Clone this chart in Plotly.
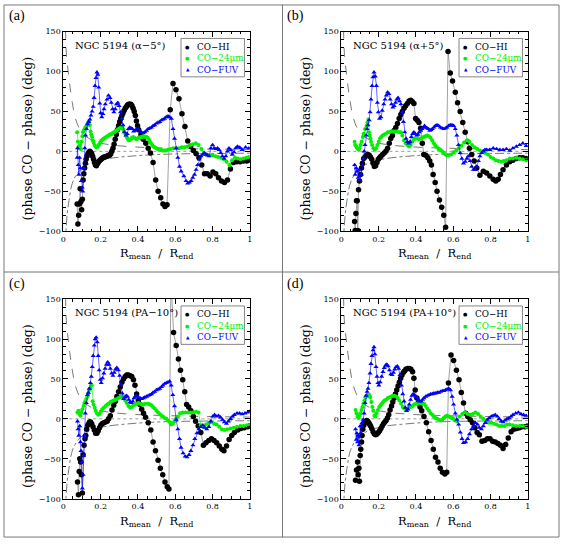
import plotly.graph_objects as go

# values: (R_mean / R_end, phase difference in deg)
A_HI = [(0.074, -66), (0.078, -91), (0.082, -80), (0.086, -66), (0.090, -47), (0.094, -63), (0.098, -73),
        (0.102, -60), (0.106, -36), (0.110, -28), (0.114, -21), (0.118, -15), (0.122, -10), (0.127, -6),
        (0.132, -3), (0.137, -1), (0.142, 0), (0.147, -1), (0.152, -3), (0.157, -6), (0.162, -10),
        (0.167, -14), (0.172, -17), (0.177, -18), (0.182, -16), (0.187, -14), (0.192, -12), (0.197, -11),
        (0.202, -10), (0.207, -9), (0.212, -8), (0.218, -7), (0.224, -7), (0.230, -6), (0.236, -6),
        (0.242, -5), (0.248, -5), (0.254, -3), (0.260, 0), (0.266, 4), (0.272, 9), (0.278, 15), (0.284, 21),
        (0.290, 27), (0.296, 32), (0.302, 37), (0.308, 41), (0.314, 45), (0.320, 48), (0.326, 51),
        (0.332, 54), (0.338, 56), (0.344, 58), (0.350, 59), (0.356, 59), (0.362, 59), (0.368, 57),
        (0.374, 54), (0.380, 50), (0.386, 45), (0.392, 38), (0.398, 32), (0.404, 27), (0.416, 21),
        (0.428, 15), (0.442, 10), (0.455, 4), (0.467, -2), (0.481, -14), (0.495, -36), (0.508, -50),
        (0.522, -58), (0.534, -66), (0.545, -69), (0.556, -67), (0.573, 52), (0.588, 85), (0.604, 77),
        (0.620, 66), (0.636, 47), (0.652, 31), (0.667, 13), (0.682, 6), (0.697, 1), (0.712, -3),
        (0.727, -8), (0.742, -17), (0.757, -28), (0.772, -28), (0.787, -31), (0.802, -26), (0.817, -28),
        (0.832, -33), (0.848, -37), (0.864, -39), (0.880, -36), (0.896, -22), (0.912, -14), (0.930, -13),
        (0.948, -13), (0.966, -12), (0.984, -12), (0.998, -11)]

A_24 = [(0.074, 24), (0.078, 12), (0.082, 6), (0.086, 4), (0.090, 8), (0.094, 3), (0.098, 12), (0.102, 19),
        (0.106, 24), (0.110, 26), (0.114, 28), (0.118, 30), (0.122, 31), (0.126, 33), (0.130, 35),
        (0.134, 36), (0.138, 38), (0.142, 33), (0.146, 25), (0.150, 21), (0.154, 18), (0.158, 14),
        (0.162, 11), (0.167, 8), (0.172, 6), (0.177, 5), (0.182, 5), (0.187, 7), (0.192, 9), (0.197, 11),
        (0.202, 13), (0.207, 14), (0.212, 15), (0.218, 16), (0.224, 17), (0.230, 18), (0.236, 19),
        (0.242, 20), (0.248, 21), (0.254, 21), (0.260, 22), (0.266, 23), (0.272, 24), (0.278, 25),
        (0.284, 26), (0.290, 27), (0.296, 28), (0.302, 29), (0.308, 30), (0.314, 30), (0.320, 28),
        (0.326, 25), (0.332, 22), (0.338, 19), (0.344, 16), (0.350, 14), (0.356, 14), (0.362, 15),
        (0.368, 17), (0.374, 18), (0.380, 17), (0.386, 16), (0.392, 15), (0.398, 16), (0.404, 17),
        (0.410, 17), (0.416, 18), (0.422, 18), (0.428, 19), (0.434, 19), (0.440, 18), (0.446, 18),
        (0.452, 17), (0.458, 15), (0.464, 12), (0.470, 10), (0.476, 8), (0.482, 6), (0.490, 5), (0.498, 4),
        (0.506, 3), (0.514, 2), (0.522, 2), (0.530, 1), (0.538, 1), (0.546, 1), (0.560, 2), (0.575, 3),
        (0.590, 4), (0.605, 4), (0.620, 4), (0.635, 5), (0.650, 5), (0.665, 6), (0.680, 8), (0.695, 9),
        (0.710, 10), (0.725, 8), (0.740, 3), (0.755, -2), (0.770, -4), (0.785, -5), (0.800, -5),
        (0.815, -6), (0.830, -7), (0.845, -8), (0.860, -10), (0.875, -13), (0.890, -17), (0.905, -11),
        (0.920, -8), (0.935, -9), (0.950, -10), (0.965, -9), (0.980, -8), (0.995, -7)]

A_FUV = [(0.074, -8), (0.076, 4), (0.080, -17), (0.083, -29), (0.087, -8), (0.092, -21), (0.096, -37),
         (0.101, -45), (0.104, -50), (0.110, -21), (0.115, 4), (0.119, 20), (0.124, 28), (0.130, 34),
         (0.136, 37), (0.142, 40), (0.148, 45), (0.154, 50), (0.160, 56), (0.165, 67), (0.170, 82),
         (0.175, 92), (0.180, 99), (0.185, 96), (0.190, 80), (0.195, 60), (0.200, 48), (0.206, 43),
         (0.212, 47), (0.218, 53), (0.225, 59), (0.234, 65), (0.242, 70), (0.250, 67), (0.257, 61),
         (0.264, 53), (0.271, 49), (0.278, 53), (0.285, 59), (0.292, 61), (0.299, 57), (0.306, 49),
         (0.313, 41), (0.320, 33), (0.327, 24), (0.335, 20), (0.342, 22), (0.349, 28), (0.356, 30),
         (0.363, 29), (0.370, 28), (0.377, 25), (0.384, 26), (0.393, 28), (0.402, 28), (0.411, 25),
         (0.419, 24), (0.428, 23), (0.437, 24), (0.446, 26), (0.455, 28), (0.464, 29), (0.473, 30),
         (0.481, 32), (0.490, 33), (0.499, 35), (0.508, 36), (0.517, 37), (0.526, 39), (0.535, 40),
         (0.543, 41), (0.552, 43), (0.561, 44), (0.570, 43), (0.579, 41), (0.588, 28), (0.596, 16),
         (0.605, 4), (0.614, -8), (0.623, -19), (0.632, -25), (0.646, -31), (0.658, -37), (0.667, -40),
         (0.676, -39), (0.685, -37), (0.694, -33), (0.703, -29), (0.712, -23), (0.720, -17), (0.729, -10),
         (0.738, -6), (0.747, -4), (0.756, -2), (0.765, -4), (0.773, -5), (0.782, -6), (0.791, 4),
         (0.800, 8), (0.809, 4), (0.818, 3), (0.827, 4), (0.835, 2), (0.844, -2), (0.853, -6), (0.862, -9),
         (0.871, -6), (0.880, 0), (0.888, 4), (0.897, 2), (0.906, -4), (0.915, -1), (0.924, 4), (0.933, 6),
         (0.942, 5), (0.950, 4), (0.959, 2), (0.977, 5), (0.995, 4)]

B_HI = [(0.071, -88), (0.074, -99), (0.078, -78), (0.081, -62), (0.085, -62), (0.088, -99), (0.092, -48),
        (0.097, -37), (0.103, -29), (0.108, -21), (0.113, -15), (0.120, -9), (0.127, -7), (0.135, -5),
        (0.142, -4), (0.149, -5), (0.156, -7), (0.163, -10), (0.170, -15), (0.177, -19), (0.184, -18),
        (0.191, -14), (0.198, -10), (0.205, -8), (0.212, -6), (0.221, -4), (0.230, -2), (0.239, 0),
        (0.248, 4), (0.257, 10), (0.265, 16), (0.274, 20), (0.283, 26), (0.292, 30), (0.301, 35),
        (0.310, 41), (0.319, 46), (0.327, 50), (0.336, 54), (0.345, 57), (0.354, 60), (0.363, 63),
        (0.372, 64), (0.381, 62), (0.389, 60), (0.398, 41), (0.407, 39), (0.416, 36), (0.425, 29),
        (0.434, 10), (0.442, -4), (0.453, -5), (0.464, -8), (0.474, -12), (0.483, -17), (0.492, -29),
        (0.503, -39), (0.513, -50), (0.526, -61), (0.538, -70), (0.549, -80), (0.559, -95), (0.572, 125),
        (0.584, 98), (0.596, 88), (0.611, 74), (0.623, 61), (0.637, 50), (0.651, 36), (0.664, 24),
        (0.676, 12), (0.687, 4), (0.699, -4), (0.712, -12), (0.726, -21), (0.743, -30), (0.761, -25),
        (0.779, -27), (0.796, -31), (0.814, -35), (0.828, -37), (0.841, -35), (0.853, -29), (0.867, -23),
        (0.885, -17), (0.903, -13), (0.920, -11), (0.938, -9), (0.956, -8), (0.973, -8), (0.991, -9)]

B_24 = [(0.071, 12), (0.074, 8), (0.080, 6), (0.085, 4), (0.092, 2), (0.097, 4), (0.103, 8), (0.108, 12),
        (0.115, 18), (0.120, 22), (0.127, 28), (0.135, 32), (0.140, 36), (0.145, 40), (0.149, 24),
        (0.152, 20), (0.156, 16), (0.159, 12), (0.165, 8), (0.172, 4), (0.179, 2), (0.186, 4), (0.193, 8),
        (0.200, 12), (0.207, 16), (0.214, 18), (0.221, 20), (0.230, 21), (0.239, 22), (0.248, 24),
        (0.257, 24), (0.265, 25), (0.274, 25), (0.283, 25), (0.292, 25), (0.301, 25), (0.310, 24),
        (0.319, 24), (0.327, 20), (0.336, 14), (0.345, 10), (0.354, 8), (0.363, 6), (0.372, 8), (0.381, 12),
        (0.389, 15), (0.398, 16), (0.407, 16), (0.416, 15), (0.425, 16), (0.434, 17), (0.442, 18),
        (0.451, 19), (0.460, 20), (0.469, 19), (0.478, 17), (0.487, 14), (0.496, 10), (0.504, 7),
        (0.513, 5), (0.522, 3), (0.531, 2), (0.540, 0), (0.549, -2), (0.558, -4), (0.566, -5), (0.575, -5),
        (0.588, -4), (0.602, -1), (0.616, 1), (0.630, 4), (0.644, 7), (0.658, 11), (0.673, 14), (0.687, 12),
        (0.701, 8), (0.715, 5), (0.729, 3), (0.743, 1), (0.758, 0), (0.772, -2), (0.786, -4), (0.800, -7),
        (0.814, -9), (0.828, -11), (0.842, -12), (0.857, -13), (0.871, -12), (0.885, -11), (0.903, -9),
        (0.920, -9), (0.938, -8), (0.956, -9), (0.973, -10), (0.991, -11)]

B_FUV = [(0.071, -17), (0.074, -29), (0.080, -21), (0.085, -25), (0.090, -33), (0.096, -23), (0.101, -37),
         (0.106, -29), (0.112, -17), (0.117, -9), (0.122, 0), (0.127, 8), (0.133, 20), (0.138, 28),
         (0.143, 33), (0.149, 39), (0.154, 49), (0.159, 65), (0.165, 82), (0.170, 93), (0.175, 99),
         (0.182, 94), (0.188, 82), (0.193, 61), (0.198, 49), (0.205, 41), (0.212, 43), (0.219, 51),
         (0.227, 59), (0.234, 65), (0.241, 70), (0.248, 74), (0.255, 72), (0.262, 65), (0.269, 59),
         (0.276, 55), (0.283, 57), (0.290, 61), (0.297, 65), (0.304, 67), (0.312, 63), (0.319, 59),
         (0.326, 49), (0.333, 37), (0.340, 24), (0.347, 16), (0.354, 12), (0.361, 10), (0.368, 12),
         (0.375, 18), (0.382, 22), (0.389, 24), (0.396, 22), (0.404, 20), (0.411, 21), (0.418, 24),
         (0.425, 26), (0.432, 28), (0.439, 30), (0.446, 32), (0.453, 30), (0.460, 29), (0.467, 28),
         (0.474, 26), (0.481, 27), (0.488, 28), (0.496, 30), (0.504, 32), (0.513, 33), (0.522, 32),
         (0.531, 30), (0.540, 29), (0.549, 28), (0.558, 29), (0.566, 30), (0.575, 32), (0.584, 33),
         (0.593, 33), (0.602, 32), (0.611, 28), (0.619, 20), (0.628, 8), (0.637, -2), (0.646, -9),
         (0.655, -15), (0.664, -13), (0.673, -9), (0.681, -6), (0.690, -12), (0.699, -19), (0.708, -23),
         (0.717, -23), (0.726, -19), (0.735, -12), (0.743, -6), (0.752, -2), (0.761, 0), (0.770, 2),
         (0.779, 2), (0.796, 2), (0.814, 4), (0.832, 3), (0.850, 2), (0.867, 2), (0.885, 3), (0.903, 1),
         (0.920, 4), (0.938, 6), (0.956, 8), (0.973, 10), (0.991, 7)]

C_HI = [(0.076, -79), (0.081, -95), (0.085, -66), (0.088, -50), (0.093, -54), (0.097, -70), (0.102, -93),
        (0.106, -45), (0.111, -33), (0.116, -25), (0.120, -21), (0.125, -13), (0.131, -8), (0.136, -6),
        (0.141, -4), (0.146, -4), (0.152, -6), (0.159, -10), (0.166, -14), (0.173, -18), (0.180, -18),
        (0.187, -15), (0.194, -11), (0.201, -8), (0.208, -6), (0.217, -5), (0.226, -4), (0.235, -3),
        (0.243, 0), (0.252, 4), (0.261, 11), (0.270, 17), (0.279, 22), (0.287, 28), (0.296, 34),
        (0.305, 40), (0.314, 46), (0.323, 50), (0.332, 53), (0.340, 55), (0.349, 55), (0.358, 54),
        (0.367, 53), (0.376, 49), (0.384, 42), (0.393, 31), (0.402, 23), (0.411, 18), (0.420, 12),
        (0.430, 7), (0.441, 2), (0.455, -5), (0.469, -14), (0.481, -29), (0.494, -40), (0.508, -52),
        (0.520, -62), (0.533, -70), (0.545, -79), (0.557, -85), (0.566, -88), (0.577, 175), (0.591, 108),
        (0.605, 92), (0.617, 75), (0.628, 61), (0.640, 49), (0.651, 34), (0.661, 18), (0.672, 15),
        (0.684, 10), (0.697, 3), (0.709, -3), (0.723, -9), (0.737, -17), (0.751, -33), (0.765, -30),
        (0.780, -27), (0.794, -25), (0.808, -27), (0.822, -30), (0.836, -34), (0.850, -38), (0.861, -40),
        (0.875, -34), (0.889, -26), (0.903, -21), (0.917, -17), (0.935, -14), (0.952, -12), (0.970, -11),
        (0.988, -10), (0.998, -9)]

C_24 = [(0.076, 8), (0.081, 10), (0.086, 6), (0.092, 4), (0.097, 8), (0.102, 12), (0.108, 16), (0.113, 20),
        (0.118, 22), (0.123, 25), (0.129, 28), (0.134, 32), (0.139, 36), (0.145, 38), (0.152, 42),
        (0.157, 22), (0.162, 18), (0.168, 14), (0.173, 10), (0.180, 7), (0.187, 5), (0.194, 6), (0.201, 9),
        (0.208, 12), (0.217, 14), (0.226, 16), (0.235, 18), (0.243, 19), (0.252, 21), (0.261, 22),
        (0.270, 23), (0.279, 24), (0.287, 25), (0.296, 26), (0.305, 27), (0.314, 28), (0.323, 26),
        (0.332, 23), (0.340, 20), (0.349, 16), (0.358, 14), (0.367, 15), (0.376, 17), (0.384, 18),
        (0.393, 19), (0.402, 20), (0.411, 19), (0.420, 18), (0.429, 18), (0.437, 19), (0.446, 19),
        (0.455, 19), (0.464, 18), (0.473, 17), (0.481, 15), (0.490, 13), (0.499, 10), (0.508, 8),
        (0.517, 6), (0.526, 4), (0.534, 3), (0.543, 1), (0.552, 0), (0.561, -2), (0.570, -4), (0.578, -7),
        (0.587, -6), (0.596, -3), (0.605, 0), (0.614, 3), (0.626, 7), (0.640, 8), (0.654, 8), (0.668, 8),
        (0.683, 8), (0.697, 8), (0.711, 9), (0.725, 8), (0.737, -8), (0.751, -10), (0.765, -7), (0.780, -5),
        (0.794, -4), (0.808, -6), (0.822, -7), (0.836, -10), (0.850, -13), (0.864, -14), (0.878, -13),
        (0.896, -12), (0.914, -11), (0.931, -10), (0.949, -9), (0.966, -9), (0.984, -8), (0.998, -8)]

C_FUV = [(0.076, -3), (0.079, -13), (0.083, -21), (0.088, -9), (0.092, -29), (0.095, -40), (0.099, -54),
         (0.102, -87), (0.106, -70), (0.109, -46), (0.113, -21), (0.118, 7), (0.123, 20), (0.129, 30),
         (0.134, 33), (0.139, 38), (0.145, 45), (0.150, 53), (0.155, 65), (0.160, 79), (0.166, 92),
         (0.171, 100), (0.176, 102), (0.182, 96), (0.187, 79), (0.192, 61), (0.198, 49), (0.203, 45),
         (0.210, 51), (0.217, 57), (0.224, 63), (0.231, 68), (0.238, 71), (0.245, 68), (0.252, 63),
         (0.259, 57), (0.266, 54), (0.273, 58), (0.280, 62), (0.287, 64), (0.295, 61), (0.302, 54),
         (0.309, 43), (0.316, 32), (0.323, 25), (0.330, 27), (0.337, 29), (0.344, 28), (0.351, 24),
         (0.358, 21), (0.365, 20), (0.372, 22), (0.379, 26), (0.386, 28), (0.393, 29), (0.402, 27),
         (0.411, 26), (0.420, 25), (0.429, 26), (0.437, 27), (0.446, 28), (0.455, 29), (0.464, 30),
         (0.473, 31), (0.481, 33), (0.490, 34), (0.499, 36), (0.508, 37), (0.517, 38), (0.526, 40),
         (0.534, 42), (0.543, 44), (0.552, 45), (0.561, 46), (0.570, 47), (0.578, 42), (0.587, 30),
         (0.596, 16), (0.605, -1), (0.614, -13), (0.623, -25), (0.631, -36), (0.642, -43), (0.653, -47),
         (0.663, -48), (0.674, -45), (0.684, -40), (0.695, -33), (0.705, -25), (0.716, -18), (0.727, -13),
         (0.737, -10), (0.748, -8), (0.758, -11), (0.769, -13), (0.780, -10), (0.790, -3), (0.801, 3),
         (0.811, 5), (0.822, 3), (0.832, 4), (0.843, 2), (0.854, -1), (0.864, -4), (0.875, -6), (0.885, -3),
         (0.896, 0), (0.907, 3), (0.917, 5), (0.931, 7), (0.945, 7), (0.959, 6), (0.974, 7), (0.988, 8),
         (0.998, 9)]

D_HI = [(0.076, -77), (0.081, -64), (0.087, -54), (0.090, -70), (0.094, -62), (0.097, -78), (0.101, -46),
        (0.104, -38), (0.108, -29), (0.111, -21), (0.115, -13), (0.120, -8), (0.125, -5), (0.131, -3),
        (0.136, -2), (0.141, -3), (0.147, -5), (0.152, -7), (0.157, -9), (0.163, -12), (0.170, -16),
        (0.177, -19), (0.184, -20), (0.191, -19), (0.198, -17), (0.205, -15), (0.212, -12), (0.219, -9),
        (0.226, -6), (0.233, -4), (0.240, -2), (0.247, 1), (0.254, 5), (0.261, 11), (0.269, 16),
        (0.276, 21), (0.283, 26), (0.290, 31), (0.297, 36), (0.304, 41), (0.311, 46), (0.318, 51),
        (0.325, 55), (0.332, 58), (0.339, 60), (0.346, 62), (0.355, 63), (0.364, 63), (0.373, 62),
        (0.382, 59), (0.389, 51), (0.396, 36), (0.405, 26), (0.413, 20), (0.422, 15), (0.431, 10),
        (0.443, 3), (0.456, -5), (0.468, -16), (0.481, -27), (0.493, -38), (0.505, -48), (0.518, -54),
        (0.530, -62), (0.542, -67), (0.555, -69), (0.565, -67), (0.574, 45), (0.588, 80), (0.602, 73),
        (0.617, 61), (0.631, 49), (0.643, 33), (0.655, 20), (0.666, 7), (0.678, 3), (0.691, -1),
        (0.703, -5), (0.716, -11), (0.728, -17), (0.740, -20), (0.754, -28), (0.769, -27), (0.783, -25),
        (0.797, -25), (0.811, -28), (0.825, -29), (0.839, -31), (0.853, -33), (0.867, -37), (0.881, -32),
        (0.895, -24), (0.910, -16), (0.925, -13), (0.940, -12), (0.955, -11), (0.970, -10), (0.985, -10),
        (0.998, -9)]

D_24 = [(0.076, 11), (0.081, 7), (0.087, 3), (0.092, 1), (0.097, 4), (0.102, 7), (0.108, 11), (0.113, 15),
        (0.118, 19), (0.124, 23), (0.129, 27), (0.134, 29), (0.140, 30), (0.145, 29), (0.150, 30),
        (0.155, 27), (0.161, 21), (0.166, 15), (0.171, 10), (0.177, 4), (0.182, 3), (0.189, 7), (0.196, 11),
        (0.203, 15), (0.210, 17), (0.217, 19), (0.224, 21), (0.231, 23), (0.240, 24), (0.249, 26),
        (0.258, 27), (0.267, 28), (0.276, 29), (0.284, 29), (0.293, 28), (0.302, 26), (0.311, 23),
        (0.320, 19), (0.329, 15), (0.337, 13), (0.346, 12), (0.355, 13), (0.364, 15), (0.373, 15),
        (0.382, 16), (0.390, 18), (0.399, 19), (0.408, 19), (0.417, 20), (0.426, 20), (0.435, 19),
        (0.443, 19), (0.452, 16), (0.461, 13), (0.470, 10), (0.479, 7), (0.488, 5), (0.496, 3), (0.505, 1),
        (0.514, 0), (0.523, -1), (0.532, -2), (0.541, -1), (0.549, 1), (0.558, 3), (0.567, 4), (0.576, 3),
        (0.585, 2), (0.594, 1), (0.602, 0), (0.611, -2), (0.620, -3), (0.634, 3), (0.648, 6), (0.663, 8),
        (0.677, 6), (0.691, 5), (0.705, 6), (0.719, 8), (0.733, 6), (0.747, 3), (0.761, 0), (0.776, -3),
        (0.790, -5), (0.804, -5), (0.818, -6), (0.832, -7), (0.846, -9), (0.860, -9), (0.875, -9),
        (0.889, -7), (0.903, -7), (0.920, -8), (0.938, -9), (0.956, -9), (0.973, -9), (0.991, -10)]

D_FUV = [(0.076, -13), (0.080, -26), (0.083, -18), (0.087, -29), (0.090, -21), (0.094, -33), (0.097, -23),
         (0.101, -9), (0.104, -18), (0.108, -9), (0.111, -5), (0.117, -1), (0.122, 7), (0.127, 20),
         (0.133, 29), (0.138, 34), (0.143, 38), (0.148, 45), (0.154, 57), (0.159, 69), (0.164, 79),
         (0.170, 86), (0.175, 90), (0.180, 81), (0.186, 65), (0.191, 53), (0.196, 45), (0.201, 42),
         (0.208, 46), (0.216, 53), (0.223, 59), (0.230, 64), (0.237, 67), (0.244, 68), (0.251, 66),
         (0.258, 61), (0.265, 56), (0.272, 55), (0.279, 58), (0.286, 62), (0.293, 65), (0.300, 66),
         (0.307, 63), (0.314, 55), (0.322, 42), (0.329, 31), (0.336, 22), (0.343, 14), (0.350, 10),
         (0.357, 12), (0.364, 18), (0.371, 24), (0.378, 29), (0.385, 31), (0.392, 30), (0.399, 28),
         (0.406, 26), (0.413, 24), (0.420, 22), (0.428, 22), (0.435, 24), (0.443, 26), (0.452, 28),
         (0.461, 29), (0.470, 30), (0.479, 31), (0.488, 31), (0.496, 32), (0.505, 32), (0.514, 33),
         (0.523, 33), (0.532, 34), (0.541, 35), (0.549, 35), (0.558, 36), (0.567, 37), (0.576, 38),
         (0.585, 36), (0.594, 28), (0.602, 18), (0.611, 7), (0.620, -1), (0.629, -7), (0.638, -17),
         (0.647, -25), (0.655, -30), (0.666, -29), (0.677, -25), (0.687, -19), (0.698, -13), (0.708, -9),
         (0.719, -5), (0.730, -7), (0.740, -11), (0.751, -13), (0.761, -9), (0.772, -5), (0.783, -1),
         (0.793, 1), (0.804, 3), (0.814, 4), (0.825, 5), (0.836, 3), (0.846, 0), (0.857, -3), (0.867, -4),
         (0.878, -2), (0.889, 0), (0.899, 1), (0.910, 3), (0.920, 5), (0.935, 7), (0.949, 8), (0.963, 6),
         (0.977, 5), (0.991, 4)]

# dashed envelope curves (same in every panel)
ENV_UP = [(0.010, 175), (0.012, 150), (0.016, 123), (0.025, 102), (0.035, 82), (0.048, 61), (0.065, 41),
          (0.092, 26), (0.120, 19), (0.172, 12), (0.260, 8), (0.384, 5.5), (0.560, 4), (0.750, 3),
          (1.000, 2.2)]
ENV_LO = [(0.012, -115), (0.014, -100), (0.020, -80), (0.030, -62), (0.048, -40), (0.074, -28),
          (0.119, -18), (0.207, -10.5), (0.384, -5.6), (0.561, -3.5), (0.750, -2.8), (1.000, -2.3)]

PANEL_TAGS = ["(a)", "(b)", "(c)", "(d)"]
PANEL_TITLES = ["NGC 5194 (α−5°)", "NGC 5194 (α+5°)", "NGC 5194 (PA−10°)", "NGC 5194 (PA+10°)"]
PANEL_DATA = [(A_HI, A_24, A_FUV), (B_HI, B_24, B_FUV), (C_HI, C_24, C_FUV), (D_HI, D_24, D_FUV)]

SERIES_NAMES = ["CO−HI", "CO−24μm", "CO−FUV"]
X_TICKS = [0, 0.2, 0.4, 0.6, 0.8, 1]
X_TICK_TEXT = ["0", "0.2", "0.4", "0.6", "0.8", "1"]
Y_TICKS = [-100, -50, 0, 50, 100, 150]
Y_TICK_TEXT = ["−100", "−50", "0", "50", "100", "150"]

W, H = 564, 545
# plot areas in pixels: left, top, right, bottom
BOXES = [(61, 28, 249.5, 231), (342, 28, 530.5, 231),
         (61, 300, 249.5, 503), (342, 300, 530.5, 503)]

SERIF = "DejaVu Serif"
GREEN = "#00f000"
BLUE = "#0000ff"


def px(x):
    return x / W


def py(y):
    return 1 - y / H


fig = go.Figure()
annotations = []
shapes = []

for i, (tag, title, data) in enumerate(zip(PANEL_TAGS, PANEL_TITLES, PANEL_DATA)):
    n = "" if i == 0 else str(i + 1)
    xa, ya = "x" + n, "y" + n
    l, t, r, b = BOXES[i]

    axis_common = dict(showline=True, linecolor="black", linewidth=1, mirror="ticks",
                       ticks="inside", ticklen=5, tickwidth=0.8, tickcolor="black",
                       showgrid=False, zeroline=False,
                       tickfont=dict(family=SERIF, size=8, color="black"))
    fig.update_layout(**{
        "xaxis" + n: dict(axis_common, domain=[px(l), px(r)], anchor=ya, range=[0, 1],
                          tickvals=X_TICKS, ticktext=X_TICK_TEXT,
                          minor=dict(ticks="inside", ticklen=2.5, dtick=0.05, tickwidth=0.8,
                                     tickcolor="black")),
        "yaxis" + n: dict(axis_common, domain=[py(b), py(t)], anchor=xa, range=[-100, 150.05],
                          tickvals=Y_TICKS, ticktext=Y_TICK_TEXT,
                          minor=dict(ticks="inside", ticklen=2.5, dtick=10, tickwidth=0.8,
                                     tickcolor="black")),
    })

    # reference lines
    shapes.append(dict(type="line", xref=xa, yref=ya, x0=0, x1=1, y0=0, y1=0,
                       line=dict(color="#999999", width=1, dash="dot"), layer="below"))
    for env, dash in ((ENV_UP, "dash"), (ENV_LO, "dashdot")):
        ex, ey = zip(*env)
        fig.add_trace(go.Scatter(x=ex, y=ey, mode="lines", line=dict(color="#555555", width=0.8,
                                 dash=dash, shape="spline"), xaxis=xa, yaxis=ya,
                                 showlegend=False, hoverinfo="skip"))

    hi, m24, fuv = data
    hx, hy = zip(*hi)
    fig.add_trace(go.Scatter(x=hx, y=hy, mode="lines+markers", name=SERIES_NAMES[0],
                             line=dict(color="#8a8a8a", width=0.8),
                             marker=dict(symbol="circle", size=5.5, color="black"),
                             xaxis=xa, yaxis=ya, showlegend=False))
    gx, gy = zip(*m24)
    fig.add_trace(go.Scatter(x=gx, y=gy, mode="lines+markers", name=SERIES_NAMES[1],
                             line=dict(color=GREEN, width=0.6),
                             marker=dict(symbol="circle", size=4, color=GREEN),
                             xaxis=xa, yaxis=ya, showlegend=False))
    bx, by = zip(*fuv)
    fig.add_trace(go.Scatter(x=bx, y=by, mode="lines+markers", name=SERIES_NAMES[2],
                             line=dict(color=BLUE, width=0.6),
                             marker=dict(symbol="triangle-up", size=4.5, color=BLUE),
                             xaxis=xa, yaxis=ya, showlegend=False))

    # legend box drawn by hand (PGPLOT style)
    shapes.append(dict(type="rect", xref=xa, yref=ya, x0=0.631, x1=0.971, y0=93.3, y1=141.4,
                       line=dict(color="#666666", width=0.8), fillcolor="white", layer="above"))
    keys = [("●", "black", 5), ("●", GREEN, 5), ("▲", BLUE, 4.5)]
    colors = ["black", GREEN, BLUE]
    for k, (yy, (glyph, col, sz)) in enumerate(zip([131.2, 116.7, 102.3], keys)):
        annotations.append(dict(xref=xa, yref=ya, x=0.668, y=yy, text=glyph, showarrow=False,
                                xanchor="center", yanchor="middle",
                                font=dict(family="DejaVu Sans", size=sz, color=col)))
        annotations.append(dict(xref=xa, yref=ya, x=0.705, y=yy, text=SERIES_NAMES[k],
                                showarrow=False, xanchor="left", yanchor="middle",
                                font=dict(family=SERIF, size=8.8, color=colors[k])))

    annotations.append(dict(xref=xa, yref=ya, x=0.05, y=133, text=title, showarrow=False,
                            xanchor="left", yanchor="middle",
                            font=dict(family=SERIF, size=10, color="black")))

    # axis titles
    ox = 0 if i % 2 == 0 else 281
    oy = 0 if i < 2 else 272
    annotations.append(dict(xref="paper", yref="paper", x=px(25 + ox), y=py(137 + oy),
                            xanchor="center", yanchor="middle",
                            text="(phase CO − phase) (deg)", textangle=-90, showarrow=False,
                            font=dict(family=SERIF, size=12.5, color="black")))
    annotations.append(dict(xref="paper", yref="paper", x=px((l + r) / 2), y=py(254 + oy),
                            xanchor="center", yanchor="middle",
                            text="R<sub>mean</sub>  /  R<sub>end</sub>", showarrow=False,
                            font=dict(family=SERIF, size=11.5, color="black")))
    annotations.append(dict(xref="paper", yref="paper", x=px(4 + ox), y=py(12.5 + oy),
                            text=tag, showarrow=False, xanchor="left", yanchor="middle",
                            font=dict(family="Liberation Serif", size=14, color="black")))

# panel frames
frame = dict(color="#777777", width=1)
shapes.append(dict(type="rect", xref="paper", yref="paper", x0=px(1), x1=px(562), y0=py(542), y1=py(1),
                   line=frame))
shapes.append(dict(type="line", xref="paper", yref="paper", x0=px(282.5), x1=px(282.5),
                   y0=py(542), y1=py(1), line=frame))
shapes.append(dict(type="line", xref="paper", yref="paper", x0=px(1), x1=px(562),
                   y0=py(272.5), y1=py(272.5), line=frame))

fig.update_layout(width=W, height=H, margin=dict(l=0, r=0, t=0, b=0),
                  paper_bgcolor="white", plot_bgcolor="white",
                  annotations=annotations, shapes=shapes, showlegend=False)

# the page gets no body margin so the figure sits at the window's corner
fig.write_html("out.html", config={"displayModeBar": False},
               post_script="document.body.style.margin='0';")
